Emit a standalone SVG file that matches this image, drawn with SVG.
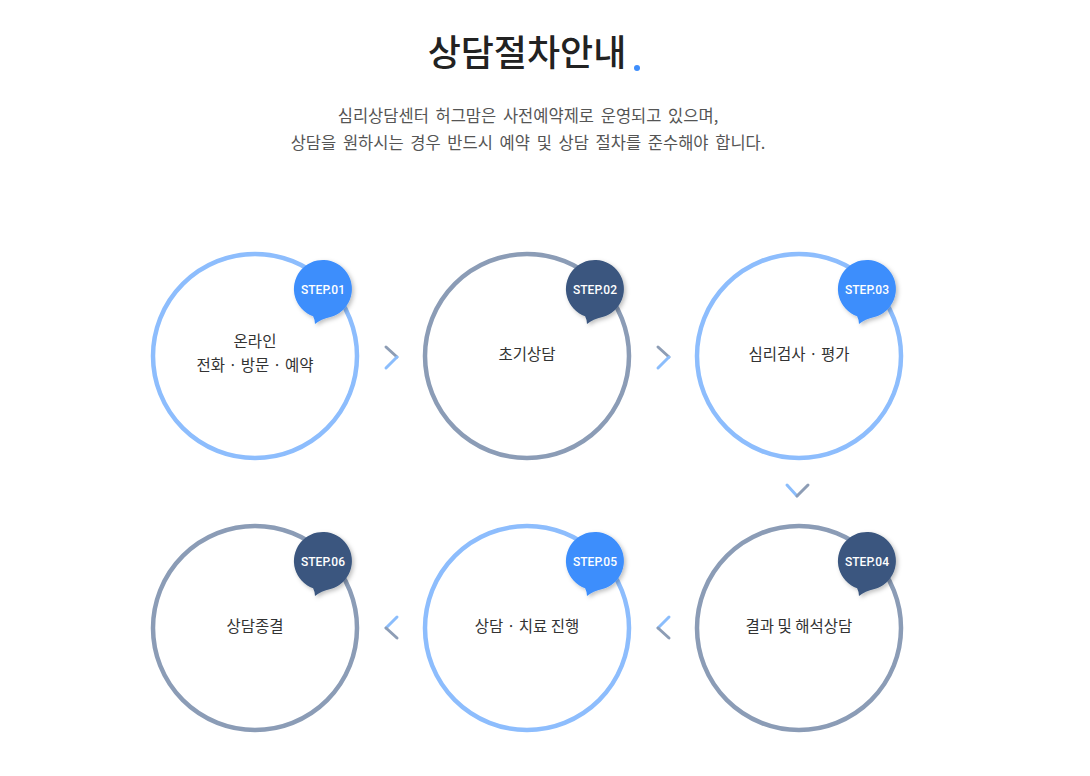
<svg xmlns="http://www.w3.org/2000/svg" width="1090" height="776" viewBox="0 0 1090 776">
<style>
.ring{fill:#fff;stroke-width:4.5}
.lb{stroke:#8dbdfd}
.gr{stroke:#8b9cb6}
.t{font-family:"Noto Sans CJK KR","Noto Sans",sans-serif;font-size:15.5px;fill:#333;text-anchor:middle}
.bt{font-family:Roboto,"Liberation Sans",sans-serif;font-size:12px;font-weight:500;fill:#fff;text-anchor:middle}
.b1{fill:#3e8efc}
.b2{fill:#3b577f}
.chg{stroke:#8d9db5;stroke-width:3;stroke-linecap:round;fill:none}
.chb{stroke:#8bbdfc;stroke-width:3;stroke-linecap:round;fill:none}
</style>
<defs>
<filter id="sh" x="-30%" y="-30%" width="160%" height="160%">
<feDropShadow dx="2" dy="2" stdDeviation="2" flood-color="#000" flood-opacity="0.25"/>
</filter>
<path id="badge" d="M7.5,28 A29,29 0 1 0 -9.9,27.3 Q-8,31 -8,35 Q-2,30 7.5,28 Z"/>
</defs>
<rect width="1090" height="776" fill="#fff"/>
<g id="title">
<text x="527" y="66" font-family="Noto Sans CJK KR,sans-serif" font-size="36" font-weight="500" fill="#222" text-anchor="middle">상담절차안내</text>
<circle cx="637" cy="68" r="3" fill="#3e8efc"/>
</g>
<g id="subtitle" font-family="Noto Sans CJK KR,sans-serif" font-size="16.5" fill="#555" text-anchor="middle" word-spacing="3">
<text x="528" y="122">심리상담센터 허그맘은 사전예약제로 운영되고 있으며,</text>
<text x="528" y="149">상담을 원하시는 경우 반드시 예약 및 상담 절차를 준수해야 합니다.</text>
</g>
<g id="step1">
<circle class="ring lb" cx="255" cy="356" r="102"/>
<text class="t" x="255" y="347">온라인</text>
<text class="t" x="255" y="371">전화 · 방문 · 예약</text>
<use href="#badge" x="323" y="289" class="b1" filter="url(#sh)"/>
<text class="bt" x="323" y="294">STEP.01</text>
</g>
<g id="step2">
<circle class="ring gr" cx="527" cy="356" r="102"/>
<text class="t" x="527" y="360">초기상담</text>
<use href="#badge" x="595" y="289" class="b2" filter="url(#sh)"/>
<text class="bt" x="595" y="294">STEP.02</text>
</g>
<g id="step3">
<circle class="ring lb" cx="799" cy="356" r="102"/>
<text class="t" x="799" y="360">심리검사 · 평가</text>
<use href="#badge" x="867" y="289" class="b1" filter="url(#sh)"/>
<text class="bt" x="867" y="294">STEP.03</text>
</g>
<g id="step4">
<circle class="ring gr" cx="799" cy="628" r="102"/>
<text class="t" x="799" y="632">결과 및 해석상담</text>
<use href="#badge" x="867" y="561" class="b2" filter="url(#sh)"/>
<text class="bt" x="867" y="566">STEP.04</text>
</g>
<g id="step5">
<circle class="ring lb" cx="527" cy="628" r="102"/>
<text class="t" x="527" y="632">상담 · 치료 진행</text>
<use href="#badge" x="595" y="561" class="b1" filter="url(#sh)"/>
<text class="bt" x="595" y="566">STEP.05</text>
</g>
<g id="step6">
<circle class="ring gr" cx="255" cy="628" r="102"/>
<text class="t" x="255" y="632">상담종결</text>
<use href="#badge" x="323" y="561" class="b2" filter="url(#sh)"/>
<text class="bt" x="323" y="566">STEP.06</text>
</g>
<g id="connectors">
<path class="chg" d="M386,347 L397,357"/><path class="chb" d="M397,357 L386,368"/>
<path class="chg" d="M658,347 L669,357"/><path class="chb" d="M669,357 L658,368"/>
<path class="chb" d="M787,485 L797,496"/><path class="chg" d="M797,496 L808,485"/>
<path class="chb" d="M397,617 L386,628"/><path class="chg" d="M386,628 L397,638"/>
<path class="chb" d="M669,617 L658,628"/><path class="chg" d="M658,628 L669,638"/>
</g>
</svg>
